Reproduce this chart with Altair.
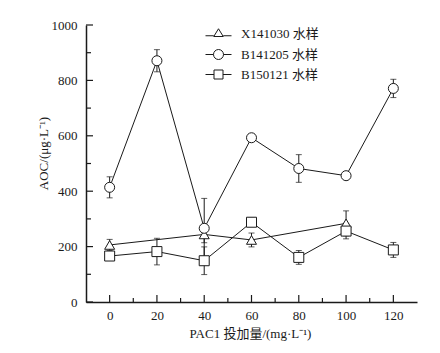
import altair as alt
import pandas as pd

# ---- data ----
series_names = ["X141030 水样", "B141205 水样", "B150121 水样"]

x_tri = [0, 40, 60, 100]
tri_vals = [206, 244, 224, 284]
tri_err = [20, 30, 25, 45]

x_all = [0, 20, 40, 60, 80, 100, 120]
cir_vals = [414, 871, 266, 593, 482, 456, 771]
cir_err = [38, 40, 108, 12, 50, 12, 33]

sq_vals = [166, 182, 149, 288, 161, 256, 188]
sq_err = [15, 48, 50, 15, 25, 28, 27]

x_major = [0, 20, 40, 60, 80, 100, 120]
x_minor = [10, 30, 50, 70, 90, 110]
y_major = [0, 200, 400, 600, 800, 1000]
y_minor = [100, 300, 500, 700, 900]

rows = []
for xs, vs, es, name in [(x_tri, tri_vals, tri_err, series_names[0]),
                         (x_all, cir_vals, cir_err, series_names[1]),
                         (x_all, sq_vals, sq_err, series_names[2])]:
    for xv, v, e in zip(xs, vs, es):
        rows.append({"series": name, "x": xv, "y": v, "lo": v - e, "hi": v + e})
df = pd.DataFrame(rows)

FONT = "Liberation Serif, Times New Roman, Noto Sans CJK SC"
W, H = 331, 277
INK = "#1a1a1a"

xscale = alt.Scale(domain=[-10, 130], nice=False, zero=False)
yscale = alt.Scale(domain=[0, 1000], nice=False)

xaxis = alt.Axis(values=x_major, ticks=False, domainColor=INK, domainWidth=1.5,
                 labelFont=FONT, labelFontSize=13, labelColor=INK, labelPadding=7,
                 grid=False, format="d", title="PAC1 投加量/(mg·L⁻¹)", titleFont=FONT,
                 titleFontSize=13, titleFontWeight="normal", titleColor=INK,
                 titleX=164, titleY=31, titleBaseline="middle", titleAnchor="middle")
yaxis = alt.Axis(values=y_major, ticks=False, domainColor=INK, domainWidth=1.5,
                 labelFont=FONT, labelFontSize=13, labelColor=INK, labelPadding=9,
                 grid=False, format="d", title="AOC/(μg·L⁻¹)", titleFont=FONT, titleFontSize=13,
                 titleFontWeight="normal", titleColor=INK, titleX=-43, titleY=128,
                 titleBaseline="middle", titleAnchor="middle", titleAngle=-90)

X = alt.X("x:Q", scale=xscale, axis=xaxis)
Y = alt.Y("y:Q", scale=yscale, axis=yaxis)

base = alt.Chart(df)

lines = base.mark_line(color=INK, strokeWidth=1).encode(x=X, y=Y, detail="series:N")
rules = base.mark_rule(color=INK, strokeWidth=1).encode(
    x=X, y=alt.Y("lo:Q", scale=yscale, axis=yaxis), y2="hi:Q")
cap_hi = base.mark_tick(orient="horizontal", size=6, thickness=1, color=INK).encode(
    x=X, y=alt.Y("hi:Q", scale=yscale, axis=yaxis))
cap_lo = base.mark_tick(orient="horizontal", size=6, thickness=1, color=INK).encode(
    x=X, y=alt.Y("lo:Q", scale=yscale, axis=yaxis))

points = base.mark_point(filled=True, fill="white", stroke=INK, strokeWidth=1, size=100, opacity=1).encode(
    x=X, y=Y,
    shape=alt.Shape("series:N", scale=alt.Scale(domain=series_names,
                                                 range=["triangle-up", "circle", "square"]),
                    legend=None))

leg_paths = [
    "M-2.6,0.45L-0.95,0.45M0,-0.95L0.95,0.6L-0.95,0.6ZM0.95,0.45L2.6,0.45",
    "M-2.6,0L-1,0M1,0L2.6,0M-1,0A1,1,0,1,0,1,0A1,1,0,1,0,-1,0Z",
    "M-2.6,0L-0.9,0M-0.9,-0.9L0.9,-0.9L0.9,0.9L-0.9,0.9ZM0.9,0L2.6,0",
]
# legend-only layer: its marks are moved outside the y domain and clipped away
legend_layer = base.transform_calculate(yoff="-5000").mark_point(
    filled=False, color=INK, strokeWidth=1, size=100, clip=True).encode(
    x=X, y=alt.Y("yoff:Q", scale=yscale, axis=yaxis),
    shape=alt.Shape("series:N",
                    scale=alt.Scale(domain=series_names, range=leg_paths),
                    legend=alt.Legend(title=None, orient="none", legendX=116, legendY=2,
                                      labelFont=FONT, labelFontSize=13, labelColor=INK,
                                      symbolSize=100, symbolStrokeColor=INK,
                                      symbolStrokeWidth=1, symbolOpacity=1,
                                      rowPadding=6, labelOffset=16, symbolOffset=10)))

tick_df_xM = pd.DataFrame({"t": x_major})
tick_df_xm = pd.DataFrame({"t": x_minor})
tick_df_yM = pd.DataFrame({"t": y_major})
tick_df_ym = pd.DataFrame({"t": y_minor})

XT = alt.X("t:Q", scale=xscale, axis=xaxis)
YT = alt.Y("t:Q", scale=yscale, axis=yaxis)

xt_major = alt.Chart(tick_df_xM).mark_rule(color=INK, strokeWidth=1.2).encode(
    x=XT, y=alt.value(H), y2=alt.value(H - 7))
xt_minor = alt.Chart(tick_df_xm).mark_rule(color=INK, strokeWidth=1.2).encode(
    x=XT, y=alt.value(H), y2=alt.value(H - 4))
yt_major = alt.Chart(tick_df_yM).mark_rule(color=INK, strokeWidth=1.2).encode(
    y=YT, x=alt.value(0), x2=alt.value(7))
yt_minor = alt.Chart(tick_df_ym).mark_rule(color=INK, strokeWidth=1.2).encode(
    y=YT, x=alt.value(0), x2=alt.value(5))

chart = alt.layer(
    xt_major, xt_minor, yt_major, yt_minor,
    lines, rules, cap_hi, cap_lo, points, legend_layer
).resolve_scale(shape="independent").resolve_legend(shape="independent").properties(
    width=W, height=H,
    padding={"left": 86, "top": 25, "right": 23, "bottom": 51},
    autosize=alt.AutoSizeParams(type="none"),
    background="white",
).configure_view(stroke=None)

chart.save("out.html", embed_options={"renderer": "svg", "actions": False})
